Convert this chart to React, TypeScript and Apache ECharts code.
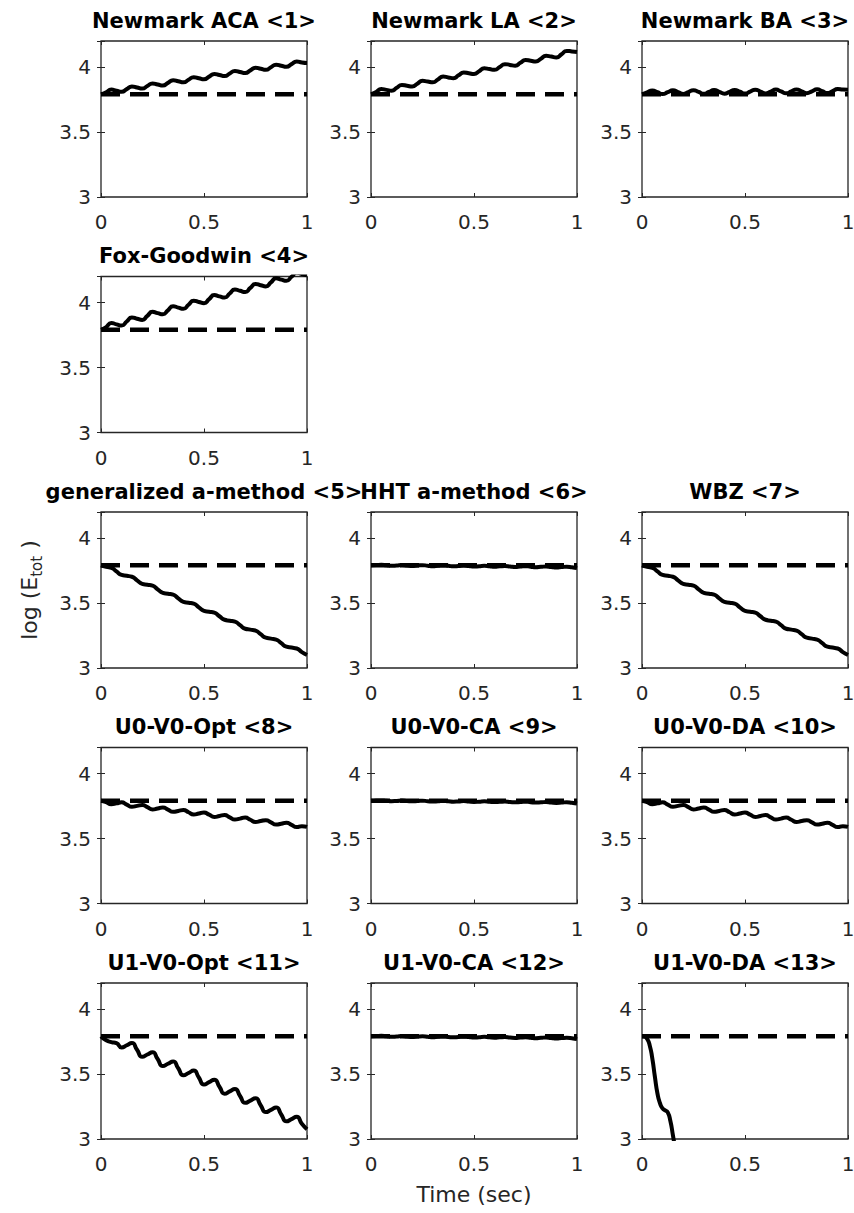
import React, { useEffect, useRef } from 'react';
import * as echarts from 'echarts';

// ---------- data ----------
const TIME = [
  0, 0.025, 0.05, 0.075, 0.1, 0.125, 0.15, 0.175, 0.2, 0.225, 0.25, 0.275, 0.3, 0.325,
  0.35, 0.375, 0.4, 0.425, 0.45, 0.475, 0.5, 0.525, 0.55, 0.575, 0.6, 0.625, 0.65, 0.675,
  0.7, 0.725, 0.75, 0.775, 0.8, 0.825, 0.85, 0.875, 0.9, 0.925, 0.95, 0.975, 1,
];

const NEWMARK_ACA = [
  3.790, 3.806, 3.826, 3.818, 3.810, 3.830, 3.850, 3.842, 3.834, 3.854, 3.874, 3.866, 3.858, 3.878,
  3.898, 3.890, 3.882, 3.902, 3.922, 3.914, 3.906, 3.926, 3.946, 3.938, 3.930, 3.950, 3.970, 3.962,
  3.954, 3.974, 3.994, 3.986, 3.978, 3.998, 4.018, 4.010, 4.002, 4.022, 4.042, 4.034, 4.030,
];
const NEWMARK_LA = [
  3.790, 3.808, 3.830, 3.824, 3.818, 3.840, 3.862, 3.856, 3.850, 3.872, 3.894, 3.888, 3.882, 3.904,
  3.926, 3.920, 3.914, 3.936, 3.958, 3.952, 3.946, 3.968, 3.990, 3.984, 3.978, 4.000, 4.022, 4.016,
  4.010, 4.032, 4.054, 4.048, 4.042, 4.064, 4.086, 4.080, 4.074, 4.098, 4.124, 4.120, 4.115,
];
const NEWMARK_BA = [
  3.790, 3.805, 3.820, 3.806, 3.792, 3.806, 3.821, 3.807, 3.793, 3.807, 3.822, 3.808, 3.794, 3.808,
  3.823, 3.809, 3.795, 3.809, 3.824, 3.810, 3.796, 3.810, 3.825, 3.811, 3.797, 3.811, 3.826, 3.812,
  3.798, 3.812, 3.827, 3.813, 3.799, 3.813, 3.828, 3.814, 3.800, 3.815, 3.830, 3.826, 3.825,
];
const FOX_GOODWIN = [
  3.790, 3.811, 3.842, 3.832, 3.823, 3.854, 3.885, 3.875, 3.866, 3.897, 3.928, 3.918, 3.909, 3.940,
  3.971, 3.961, 3.952, 3.983, 4.014, 4.004, 3.995, 4.026, 4.057, 4.047, 4.038, 4.069, 4.100, 4.090,
  4.081, 4.112, 4.143, 4.133, 4.124, 4.155, 4.186, 4.176, 4.167, 4.198, 4.229, 4.219, 4.210,
];
const GENERALIZED_ALPHA = [
  3.790, 3.778, 3.771, 3.743, 3.716, 3.709, 3.702, 3.674, 3.647, 3.640, 3.633, 3.605, 3.578, 3.571,
  3.564, 3.536, 3.509, 3.502, 3.495, 3.467, 3.440, 3.433, 3.426, 3.398, 3.371, 3.364, 3.357, 3.329,
  3.302, 3.295, 3.288, 3.260, 3.233, 3.226, 3.219, 3.191, 3.164, 3.157, 3.150, 3.122, 3.100,
];
const HHT_ALPHA = [
  3.790, 3.792, 3.794, 3.790, 3.786, 3.789, 3.792, 3.789, 3.785, 3.788, 3.791, 3.787, 3.783, 3.786,
  3.789, 3.786, 3.782, 3.785, 3.788, 3.784, 3.780, 3.783, 3.786, 3.783, 3.779, 3.782, 3.784, 3.781,
  3.777, 3.780, 3.783, 3.779, 3.775, 3.778, 3.781, 3.777, 3.773, 3.776, 3.779, 3.775, 3.768,
];
const WBZ = [
  3.790, 3.778, 3.771, 3.743, 3.716, 3.709, 3.702, 3.674, 3.647, 3.640, 3.633, 3.605, 3.578, 3.571,
  3.564, 3.536, 3.509, 3.502, 3.495, 3.467, 3.440, 3.433, 3.426, 3.398, 3.371, 3.364, 3.357, 3.329,
  3.302, 3.295, 3.288, 3.260, 3.233, 3.226, 3.219, 3.191, 3.164, 3.157, 3.150, 3.122, 3.100,
];
const U0V0_OPT = [
  3.790, 3.780, 3.763, 3.770, 3.778, 3.761, 3.744, 3.751, 3.758, 3.741, 3.724, 3.731, 3.739, 3.722,
  3.705, 3.712, 3.719, 3.702, 3.685, 3.692, 3.700, 3.683, 3.666, 3.673, 3.680, 3.663, 3.646, 3.653,
  3.661, 3.644, 3.627, 3.634, 3.641, 3.624, 3.607, 3.614, 3.622, 3.605, 3.588, 3.595, 3.590,
];
const U0V0_CA = [
  3.790, 3.792, 3.793, 3.790, 3.787, 3.789, 3.792, 3.789, 3.786, 3.788, 3.791, 3.787, 3.784, 3.786,
  3.789, 3.786, 3.783, 3.785, 3.788, 3.784, 3.781, 3.783, 3.786, 3.783, 3.780, 3.782, 3.784, 3.781,
  3.778, 3.780, 3.783, 3.779, 3.776, 3.778, 3.781, 3.777, 3.774, 3.776, 3.779, 3.775, 3.769,
];
const U0V0_DA = [
  3.790, 3.780, 3.763, 3.770, 3.778, 3.761, 3.744, 3.751, 3.758, 3.741, 3.724, 3.731, 3.739, 3.722,
  3.705, 3.712, 3.719, 3.702, 3.685, 3.692, 3.700, 3.683, 3.666, 3.673, 3.680, 3.663, 3.646, 3.653,
  3.661, 3.644, 3.627, 3.634, 3.641, 3.624, 3.607, 3.614, 3.622, 3.605, 3.588, 3.595, 3.590,
];
const U1V0_OPT = [
  3.790, 3.760, 3.745, 3.737, 3.704, 3.721, 3.739, 3.686, 3.633, 3.650, 3.668, 3.615, 3.562, 3.579,
  3.597, 3.544, 3.491, 3.508, 3.526, 3.473, 3.420, 3.437, 3.455, 3.402, 3.349, 3.366, 3.384, 3.331,
  3.278, 3.295, 3.313, 3.260, 3.207, 3.224, 3.242, 3.189, 3.136, 3.153, 3.171, 3.118, 3.075,
];
const U1V0_CA = [
  3.790, 3.792, 3.794, 3.790, 3.786, 3.789, 3.792, 3.788, 3.785, 3.788, 3.790, 3.787, 3.783, 3.786,
  3.789, 3.785, 3.782, 3.785, 3.787, 3.784, 3.780, 3.783, 3.786, 3.782, 3.779, 3.782, 3.784, 3.780,
  3.777, 3.780, 3.782, 3.779, 3.775, 3.778, 3.781, 3.777, 3.773, 3.776, 3.778, 3.775, 3.768,
];
const U1V0_DA_TIME = [
  0, 0.0125, 0.025, 0.0375, 0.05, 0.0625, 0.075, 0.0875, 0.1, 0.1125, 0.125, 0.1375, 0.15, 0.1625, 0.175,
];
const U1V0_DA = [
  3.790, 3.787, 3.770, 3.720, 3.620, 3.480, 3.350, 3.275, 3.235, 3.220, 3.205, 3.140, 3.030, 2.910, 2.790,
];

const REFERENCE_LEVEL = 3.79;

const TITLES = [
  'Newmark ACA <1>', 'Newmark LA <2>', 'Newmark BA <3>', 'Fox-Goodwin <4>',
  'generalized a-method <5>', 'HHT a-method <6>', 'WBZ <7>',
  'U0-V0-Opt <8>', 'U0-V0-CA <9>', 'U0-V0-DA <10>',
  'U1-V0-Opt <11>', 'U1-V0-CA <12>', 'U1-V0-DA <13>',
];
const SERIES_TIMES = [
  TIME, TIME, TIME, TIME, TIME, TIME, TIME, TIME, TIME, TIME, TIME, TIME, U1V0_DA_TIME,
];
const SERIES_VALUES = [
  NEWMARK_ACA, NEWMARK_LA, NEWMARK_BA, FOX_GOODWIN, GENERALIZED_ALPHA, HHT_ALPHA, WBZ,
  U0V0_OPT, U0V0_CA, U0V0_DA, U1V0_OPT, U1V0_CA, U1V0_DA,
];

const X_MIN = 0;
const X_MAX = 1;
const X_STEP = 0.5;
const Y_MIN = 3;
const Y_MAX = 4.2;
const Y_STEP = 0.5;

const X_LABEL = 'Time (sec)';

// ---------- layout ----------
const PANEL_CELLS = [
  [0, 0], [0, 1], [0, 2], [1, 0], [2, 0], [2, 1], [2, 2],
  [3, 0], [3, 1], [3, 2], [4, 0], [4, 1], [4, 2],
];
const COL_LEFT = [101, 371, 642];
const ROW_TOP = [41, 276.5, 512, 747.5, 983];
const PANEL_W = 206;
const PANEL_H = 156;
const FONT = 'DejaVu Sans';
const AXIS_COLOR = '#262626';

export default function App() {
  const ref = useRef<HTMLDivElement>(null);

  useEffect(() => {
    document.body.style.margin = '0';
    if (!ref.current) return;
    const chart = echarts.init(ref.current, undefined, { renderer: 'svg' });

    const grid: any[] = [];
    const xAxis: any[] = [];
    const yAxis: any[] = [];
    const series: any[] = [];
    const title: any[] = [];

    PANEL_CELLS.forEach(([r, c], i) => {
      const left = COL_LEFT[c];
      const top = ROW_TOP[r];
      grid.push({
        left, top, width: PANEL_W, height: PANEL_H,
        show: true, borderColor: AXIS_COLOR, borderWidth: 1.3,
        backgroundColor: 'transparent', containLabel: false, outerBoundsMode: 'none',
      });
      const tick = { show: true, inside: true, length: 4, lineStyle: { color: AXIS_COLOR, width: 1 } };
      xAxis.push({
        gridIndex: i, type: 'value', min: X_MIN, max: X_MAX, interval: X_STEP, position: 'bottom',
        axisLine: { show: false }, axisTick: tick, splitLine: { show: false },
        axisLabel: { margin: 15, fontSize: 20, fontFamily: FONT, color: AXIS_COLOR },
      });
      xAxis.push({
        gridIndex: i, type: 'value', min: X_MIN, max: X_MAX, interval: X_STEP, position: 'top',
        axisLine: { show: false }, axisTick: tick, splitLine: { show: false },
        axisLabel: { show: false },
      });
      const yFmt = (v: number) => (Math.abs(v / Y_STEP - Math.round(v / Y_STEP)) < 1e-6 ? String(v) : '');
      yAxis.push({
        gridIndex: i, type: 'value', min: Y_MIN, max: Y_MAX, interval: Y_STEP, position: 'left',
        axisLine: { show: false }, axisTick: tick, splitLine: { show: false },
        axisLabel: { margin: 10, fontSize: 20, fontFamily: FONT, color: AXIS_COLOR, formatter: yFmt },
      });
      yAxis.push({
        gridIndex: i, type: 'value', min: Y_MIN, max: Y_MAX, interval: Y_STEP, position: 'right',
        axisLine: { show: false }, axisTick: tick, splitLine: { show: false },
        axisLabel: { show: false },
      });

      const ts = SERIES_TIMES[i];
      const vs = SERIES_VALUES[i];
      series.push({
        type: 'line', xAxisIndex: 2 * i, yAxisIndex: 2 * i,
        data: vs.map((v, k) => [ts[k], v]),
        symbol: 'none', smooth: 0.6, clip: true,
        lineStyle: { color: '#000', width: 4 },
      });
      series.push({
        type: 'line', xAxisIndex: 2 * i, yAxisIndex: 2 * i,
        data: [[X_MIN, REFERENCE_LEVEL], [X_MAX, REFERENCE_LEVEL]],
        symbol: 'none', clip: true,
        lineStyle: { color: '#000', width: 4.5, type: [19, 10] },
      });

      title.push({
        text: TITLES[i], left: left + PANEL_W / 2, top: top - 31,
        textAlign: 'center', textVerticalAlign: 'top', padding: 0,
        textStyle: { fontFamily: FONT, fontSize: 21, fontWeight: 'bold', color: '#000' },
      });
    });

    chart.setOption({
      animation: false,
      backgroundColor: '#fff',
      title, grid, xAxis, yAxis, series,
      graphic: [
        {
          type: 'text', x: 29, y: ROW_TOP[2] + PANEL_H / 2, rotation: Math.PI / 2,
          style: {
            text: 'log (E{sub|tot} )',
            fontFamily: FONT, fontSize: 22, fill: AXIS_COLOR,
            align: 'center', verticalAlign: 'middle', lineHeight: 30,
            rich: { sub: { fontFamily: FONT, fontSize: 15, lineHeight: 16, verticalAlign: 'bottom', fill: AXIS_COLOR } },
          },
        },
        {
          type: 'text', x: COL_LEFT[1] + PANEL_W / 2, y: 1194,
          style: {
            text: X_LABEL, fontFamily: FONT, fontSize: 22, fill: AXIS_COLOR,
            align: 'center', verticalAlign: 'middle',
          },
        },
      ],
    });

    return () => chart.dispose();
  }, []);

  return <div ref={ref} style={{ width: 854, height: 1213 }} />;
}
